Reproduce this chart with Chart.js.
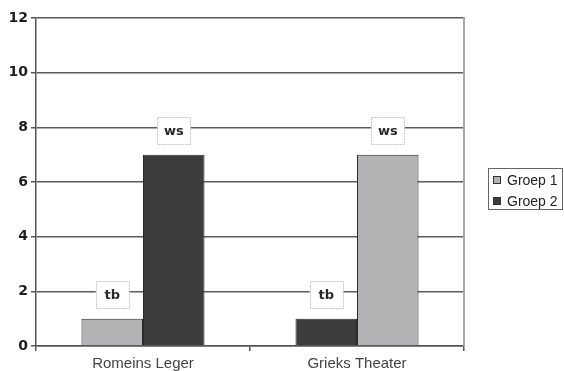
<!DOCTYPE html>
<html>
<head>
<meta charset="utf-8">
<script src="https://cdn.jsdelivr.net/npm/chart.js@4"></script>
<style>
  html, body { margin: 0; padding: 0; background: #fff; }
  #wrap { width: 564px; height: 371px; }
</style>
</head>
<body>
<div id="wrap"><canvas id="c" width="564" height="371"></canvas></div>
<script>
// Categories and series
const categories = ['Romeins Leger', 'Grieks Theater'];
const seriesNames = ['Groep 1', 'Groep 2'];
const groep1 = [1, 7];
const groep2 = [7, 1];
// Tag written above each bar
const groep1Tags = ['tb', 'ws'];
const groep2Tags = ['ws', 'tb'];
// Which series sits in the left / right slot of each category
const slotOrder = [[0, 1], [1, 0]];
const yTicks = [0, 2, 4, 6, 8, 10, 12];

const seriesColors = ['#b3b3b5', '#3c3c3c'];
const seriesValues = [groep1, groep2];
const seriesTags = [groep1Tags, groep2Tags];

// One dataset per slot, each bar coloured by the series it belongs to
const datasets = [0, 1].map(slot => ({
  label: 'slot' + slot,
  data: categories.map((_, i) => seriesValues[slotOrder[i][slot]][i]),
  backgroundColor: categories.map((_, i) => seriesColors[slotOrder[i][slot]]),
  tags: categories.map((_, i) => seriesTags[slotOrder[i][slot]][i]),
  borderColor: '#2a2a2a',
  borderWidth: 1,
  categoryPercentage: 0.575,
  barPercentage: 1.0
}));

const tagPlugin = {
  id: 'tags',
  afterDatasetsDraw(chart) {
    const ctx = chart.ctx;
    ctx.save();
    chart.data.datasets.forEach((ds, di) => {
      chart.getDatasetMeta(di).data.forEach((bar, i) => {
        const w = 33, h = 27;
        const cx = bar.x, cy = bar.y - 24;
        ctx.fillStyle = '#fff';
        ctx.fillRect(cx - w / 2, cy - h / 2, w, h);
        ctx.setLineDash([2, 1]);
        ctx.strokeStyle = '#c4c4c4';
        ctx.lineWidth = 1;
        ctx.strokeRect(Math.round(cx - w / 2) + 0.5, Math.round(cy - h / 2) + 0.5, w, h);
        ctx.setLineDash([]);
        ctx.fillStyle = '#2a2a2a';
        ctx.font = 'bold 13px "DejaVu Sans"';
        ctx.textAlign = 'center';
        ctx.textBaseline = 'middle';
        ctx.fillText(ds.tags[i], cx, cy + 1);
      });
    });
    ctx.restore();
  }
};

const framePlugin = {
  id: 'frame',
  afterDraw(chart) {
    const ctx = chart.ctx;
    const a = chart.chartArea;
    ctx.save();
    // right edge of the plot
    ctx.strokeStyle = '#a8a8a8';
    ctx.lineWidth = 2;
    ctx.beginPath();
    ctx.moveTo(a.right, a.top - 1);
    ctx.lineTo(a.right, a.bottom);
    ctx.stroke();

    // legend box
    const x0 = a.right + 24, y0 = 168, w = 74, h = 41;
    ctx.strokeStyle = '#666';
    ctx.lineWidth = 1;
    ctx.strokeRect(x0 + 0.5, y0 + 0.5, w, h);
    ctx.font = '14px "Liberation Sans", Arial, sans-serif';
    ctx.textBaseline = 'middle';
    ctx.textAlign = 'left';
    seriesNames.forEach((name, k) => {
      const cy = y0 + 12 + k * 21;
      ctx.fillStyle = seriesColors[k];
      ctx.fillRect(x0 + 5, cy - 4, 8, 8);
      ctx.strokeStyle = '#333';
      ctx.strokeRect(x0 + 5.5, cy - 3.5, 7, 7);
      ctx.fillStyle = '#222';
      ctx.fillText(name, x0 + 19, cy + 1);
    });
    ctx.restore();
  }
};

new Chart(document.getElementById('c'), {
  type: 'bar',
  data: { labels: categories, datasets },
  options: {
    responsive: false,
    animation: false,
    devicePixelRatio: 1,
    layout: { padding: { top: 18, right: 100, left: 0, bottom: 0 } },
    plugins: { legend: { display: false }, tooltip: { enabled: false } },
    scales: {
      x: {
        grid: { offset: true, drawOnChartArea: false, tickLength: 5, color: '#555', lineWidth: 1.5 },
        border: { color: '#555', width: 1.5 },
        ticks: { font: { family: '"Liberation Sans", Arial, sans-serif', size: 15 }, color: '#444', padding: 4 },
        afterFit(s) { s.height = 25; }
      },
      y: {
        min: yTicks[0],
        max: yTicks[yTicks.length - 1],
        afterBuildTicks(s) { s.ticks = yTicks.map(v => ({ value: v })); },
        ticks: { font: { family: '"DejaVu Sans"', size: 14, weight: 'bold' }, color: '#1e1e1e', padding: 3 },
        grid: { color: '#5c5c5c', lineWidth: 1.5, tickLength: 5, tickColor: '#555' },
        border: { color: '#555', width: 1.5 },
        afterFit(s) { s.width = 36; }
      }
    }
  },
  plugins: [tagPlugin, framePlugin]
});
</script>
</body>
</html>
